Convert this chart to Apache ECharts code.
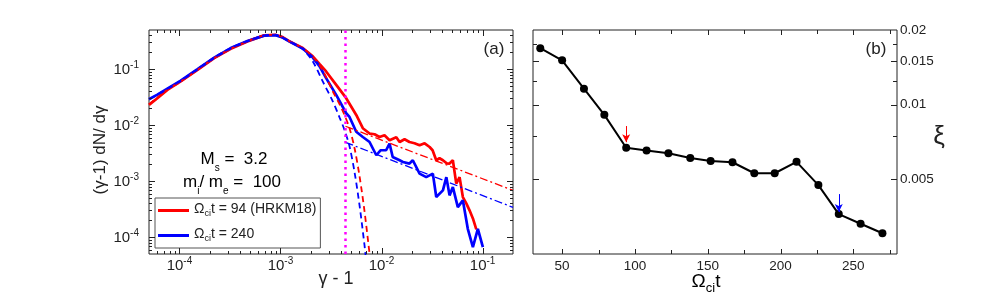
<!DOCTYPE html>
<html><head><meta charset="utf-8">
<script src="https://cdn.jsdelivr.net/npm/echarts@6/dist/echarts.min.js"></script>
<style>html,body{margin:0;padding:0;background:#fff}#c{width:997px;height:299px}</style>
</head><body><div id="c"></div>
<script>
// ---------- Panel (a) data: [gamma-1, (gamma-1)dN/dgamma] ----------
const redSolid = [[5e-5,0.0230],[6.05e-5,0.0303],[7.6e-5,0.0427],[1.03e-4,0.0603],[1.51e-4,0.0972],[2.21e-4,0.157],[3.22e-4,0.231],[4.71e-4,0.313],[6.9e-4,0.401],[8.91e-4,0.411],[1.05e-3,0.373],[1.23e-3,0.313],[1.66e-3,0.238],[2.09e-3,0.169],[2.43e-3,0.124],[2.83e-3,0.0910],[3.56e-3,0.0524],[4.47e-3,0.0303],[5.62e-3,0.0152],[6.53e-3,0.00881],[7.61e-3,0.00708],[8.53e-3,0.00688],[9.55e-3,0.00615],[0.0107,0.00659],[0.0120,0.00537],[0.0140,0.00608],[0.0151,0.00500],[0.0169,0.00560],[0.0189,0.00500],[0.0212,0.00474],[0.0238,0.00436],[0.0267,0.00474],[0.0299,0.00407],[0.0320,0.00356],[0.0348,0.00236],[0.0375,0.00256],[0.0405,0.00236],[0.0441,0.00208],[0.0471,0.00206],[0.0508,0.00236],[0.0549,9.02e-4],[0.0592,1.18e-3],[0.0638,5.20e-4],[0.0690,4.01e-4],[0.0743,3.01e-4],[0.0802,2.16e-4],[0.0867,1.38e-4]];
const blueSolid = [[5e-5,0.0290],[6.05e-5,0.0350],[7.6e-5,0.0448],[1.03e-4,0.0622],[1.51e-4,0.100],[2.21e-4,0.161],[3.22e-4,0.238],[4.71e-4,0.317],[6.9e-4,0.397],[8.91e-4,0.405],[1.05e-3,0.366],[1.23e-3,0.311],[1.66e-3,0.233],[2.09e-3,0.161],[2.43e-3,0.113],[2.83e-3,0.0690],[3.56e-3,0.0347],[4.47e-3,0.0163],[4.82e-3,0.0140],[5.62e-3,0.00762],[6.53e-3,0.00615],[7.61e-3,0.00500],[8.88e-3,0.00290],[9.77e-3,0.00356],[0.0111,0.00356],[0.0120,0.00469],[0.0129,0.00270],[0.0151,0.00236],[0.0163,0.00220],[0.0189,0.00206],[0.0204,0.00236],[0.0238,0.00136],[0.0277,0.00118],[0.0322,0.00136],[0.0348,5.20e-4],[0.0405,6.84e-4],[0.0438,0.00118],[0.0471,5.57e-4],[0.0508,7.83e-4],[0.0569,3.44e-4],[0.0638,4.54e-4],[0.0714,1.41e-4],[0.0802,6.62e-5],[0.0898,1.41e-4],[0.1007,6.62e-5]];
const redMaxwell = [[5e-5,0.0235],[6.05e-5,0.031],[7.6e-5,0.043],[1.03e-4,0.060],[1.51e-4,0.097],[2.21e-4,0.157],[3.22e-4,0.231],[4.71e-4,0.313],[6.9e-4,0.400],[8.91e-4,0.410],[1.05e-3,0.373],[1.23e-3,0.313],[1.66e-3,0.236],[2.09e-3,0.165],[2.43e-3,0.118],[2.83e-3,0.0719],[3.30e-3,0.0399],[3.84e-3,0.0237],[4.31e-3,0.0150],[4.82e-3,0.00881],[5.41e-3,0.00386],[6.06e-3,0.00122],[6.79e-3,2.88e-4],[7.7e-3,4.2e-5]];
const blueMaxwell = [[5e-5,0.029],[6.05e-5,0.035],[7.6e-5,0.0448],[1.03e-4,0.0622],[1.51e-4,0.100],[2.21e-4,0.161],[3.22e-4,0.238],[4.71e-4,0.317],[6.9e-4,0.397],[8.91e-4,0.405],[1.05e-3,0.366],[1.23e-3,0.311],[1.66e-3,0.228],[2.09e-3,0.137],[2.62e-3,0.0603],[3.30e-3,0.0264],[3.84e-3,0.0138],[4.31e-3,0.00811],[4.82e-3,0.00420],[5.41e-3,0.00144],[6.06e-3,3.69e-4],[6.79e-3,7.1e-5],[7.0e-3,4.2e-5]];
const redPowerLaw = [[4.4e-3,0.00955],[0.2,6.84e-4]];
const bluePowerLaw = [[4.4e-3,0.00494],[0.2,3.4e-4]];
const injection = [[0.0044,5e-5],[0.0044,0.5]];

// ---------- Panel (b) data ----------
const omegaT = [35,50,65,79,94,108,123,138,152,167,182,196,211,226,240,255,270];
const xi = [0.0169,0.0151,0.0116,0.0091,0.0067,0.00654,0.00637,0.0061,0.00593,0.00586,0.00529,0.00529,0.00588,0.00474,0.00362,0.00331,0.00303];
const redArrow = [[94,0.0082],[94,0.00706]];
const blueArrow = [[240,0.00436],[240,0.00369]];

// ---------- tick positions ----------
const aXMajor = [1e-4,1e-3,1e-2,1e-1];
const aXMinor = [6e-5,7e-5,8e-5,9e-5,2e-4,3e-4,4e-4,5e-4,6e-4,7e-4,8e-4,9e-4,2e-3,3e-3,4e-3,5e-3,6e-3,7e-3,8e-3,9e-3,2e-2,3e-2,4e-2,5e-2,6e-2,7e-2,8e-2,9e-2];
const aYMajor = [1e-4,1e-3,1e-2,1e-1];
const aYMinor = [6e-5,7e-5,8e-5,9e-5,2e-4,3e-4,4e-4,5e-4,6e-4,7e-4,8e-4,9e-4,2e-3,3e-3,4e-3,5e-3,6e-3,7e-3,8e-3,9e-3,2e-2,3e-2,4e-2,5e-2,6e-2,7e-2,8e-2,9e-2,0.2,0.3,0.4];
const bXMajor = [50,100,150,200,250];
const bXMinor = [75,125,175,225,275];
const bYMajor = [0.005,0.01,0.015];
const bYMinor = [0.0075,0.0125,0.0175];
const bYLabels = [0.005,0.01,0.015,0.02];

const FF = 'Liberation Sans, Arial, Helvetica, sans-serif';
const INK = '#222';

function toPairs(xs, ys){ return xs.map((x,i)=>[x, ys[i]]); }

function tickSeries(idx, xRef, yRef, xMaj, xMin, yMaj, yMin, lens){
  const data = [];
  xMaj.forEach(v=>data.push([v,yRef,0]));
  xMin.forEach(v=>data.push([v,yRef,1]));
  yMaj.forEach(v=>data.push([xRef,v,2]));
  yMin.forEach(v=>data.push([xRef,v,3]));
  return {
    type:'custom', xAxisIndex:idx, yAxisIndex:idx, silent:true, clip:false, z:10,
    encode:{x:0,y:1}, data,
    renderItem(params, api){
      const cs = params.coordSys;
      const kind = api.value(2);
      const p = api.coord([api.value(0), api.value(1)]);
      const style = {stroke:INK, lineWidth:1};
      if (kind < 2){
        const len = kind===0 ? lens[0] : lens[1];
        const x = Math.round(p[0]) + 0.5;
        const b = cs.y + cs.height, t = cs.y;
        return {type:'group', children:[
          {type:'line', shape:{x1:x,y1:b,x2:x,y2:b-len}, style},
          {type:'line', shape:{x1:x,y1:t,x2:x,y2:t+len}, style}]};
      } else {
        const len = kind===2 ? lens[2] : lens[3];
        const y = Math.round(p[1]) + 0.5;
        const l = cs.x, r = cs.x + cs.width;
        return {type:'group', children:[
          {type:'line', shape:{x1:l,y1:y,x2:l+len,y2:y}, style},
          {type:'line', shape:{x1:r,y1:y,x2:r-len,y2:y}, style}]};
      }
    }
  };
}

const powRich = {
  b:{fontSize:15, color:INK, fontFamily:FF, verticalAlign:'bottom'},
  s:{fontSize:10, color:INK, fontFamily:FF, padding:[0,0,7,0], verticalAlign:'bottom'}
};
const powFmt = v => '{b|10}{s|' + Math.round(Math.log10(v)) + '}';
const subRich = (big, small, drop) => ({
  o:{fontSize:big, color:INK, fontFamily:FF, lineHeight:big+3, verticalAlign:'top'},
  s:{fontSize:small, color:INK, fontFamily:FF, lineHeight:small+2, padding:[drop,0,0,0], verticalAlign:'top'}
});

const chart = echarts.init(document.getElementById('c'), null, {renderer:'canvas'});
const option = {
  animation:false,
  backgroundColor:'#fff',
  textStyle:{fontFamily:FF},
  grid:[
    {left:149, top:30, width:364, height:224, show:true, borderColor:INK, borderWidth:1, backgroundColor:'transparent', outerBoundsMode:'none', containLabel:false},
    {left:533, top:30, width:364, height:224, show:true, borderColor:INK, borderWidth:1, backgroundColor:'transparent', outerBoundsMode:'none', containLabel:false}
  ],
  xAxis:[
    {type:'log', logBase:10, gridIndex:0, min:5e-5, max:0.2,
     axisLine:{show:false}, axisTick:{show:false}, splitLine:{show:false},
     axisLabel:{showMinLabel:false, showMaxLabel:false, margin:2, fontSize:15, color:INK, fontFamily:FF, formatter:powFmt, rich:powRich}},
    {type:'value', gridIndex:1, min:30, max:280,
     axisLine:{show:false}, axisTick:{show:false}, splitLine:{show:false},
     axisLabel:{showMinLabel:false, showMaxLabel:false, margin:5, fontSize:13.5, color:INK, fontFamily:FF}}
  ],
  yAxis:[
    {type:'log', logBase:10, gridIndex:0, min:5e-5, max:0.5,
     axisLine:{show:false}, axisTick:{show:false}, splitLine:{show:false},
     axisLabel:{showMinLabel:false, showMaxLabel:false, margin:10, fontSize:15, color:INK, fontFamily:FF, formatter:powFmt, rich:powRich}},
    {type:'log', logBase:10, gridIndex:1, min:0.0025, max:0.02, position:'right',
     axisLine:{show:false}, axisTick:{show:false}, splitLine:{show:false},
     axisLabel:{customValues:bYLabels, margin:3, fontSize:13.5, color:INK, fontFamily:FF,
       formatter: v => String(+(+v).toPrecision(3))}}
  ],
  legend:{
    left:155, top:198, orient:'vertical', itemGap:9, itemWidth:31, itemHeight:3, icon:'rect',
    padding:[4,4,5,3], borderColor:'#555', borderWidth:1, backgroundColor:'#fff',
    data:['Ωcit = 94 (HRKM18)','Ωcit = 240'],
    formatter: name => name==='Ωcit = 240' ? '{o|Ω}{s|ci}{o|t = 240}' : '{o|Ω}{s|ci}{o|t = 94 (HRKM18)}',
    textStyle:{rich:subRich(14,9,7)}
  },
  series:[
    {name:'Ωcit = 94 (HRKM18)', type:'line', xAxisIndex:0, yAxisIndex:0, data:redSolid, showSymbol:false, symbol:'none',
     lineStyle:{color:'#ff0000', width:2.7}, itemStyle:{color:'#ff0000'}, z:3},
    {name:'Ωcit = 240', type:'line', xAxisIndex:0, yAxisIndex:0, data:blueSolid, showSymbol:false, symbol:'none',
     lineStyle:{color:'#0000ff', width:2.7}, itemStyle:{color:'#0000ff'}, z:4},
    {name:'red Maxwellian', type:'line', xAxisIndex:0, yAxisIndex:0, data:redMaxwell, symbol:'none', smooth:0.3,
     lineStyle:{color:'#ff0000', width:1.8, type:[6,4]}, z:5},
    {name:'blue Maxwellian', type:'line', xAxisIndex:0, yAxisIndex:0, data:blueMaxwell, symbol:'none', smooth:0.3,
     lineStyle:{color:'#0000ff', width:1.8, type:[6,4]}, z:5},
    {name:'red power law', type:'line', xAxisIndex:0, yAxisIndex:0, data:redPowerLaw, symbol:'none',
     lineStyle:{color:'#ff0000', width:1.3, type:[8,3,2,3]}, z:5},
    {name:'blue power law', type:'line', xAxisIndex:0, yAxisIndex:0, data:bluePowerLaw, symbol:'none',
     lineStyle:{color:'#0000ff', width:1.3, type:[8,3,2,3]}, z:5},
    {name:'injection', type:'line', xAxisIndex:0, yAxisIndex:0, data:injection, symbol:'none',
     lineStyle:{color:'#ff00ff', width:2.5, type:[2.5,4]}, z:6},
    {name:'xi', type:'line', xAxisIndex:1, yAxisIndex:1, data:toPairs(omegaT, xi),
     symbol:'circle', symbolSize:8, showSymbol:true,
     lineStyle:{color:'#000', width:2}, itemStyle:{color:'#000'}, z:4,
     markLine:{silent:true, symbol:['none','arrow'], symbolSize:[6,8], label:{show:false}, animation:false,
       data:[
         [{coord:redArrow[0], lineStyle:{color:'#ff0000', width:1, type:'solid'}},{coord:redArrow[1]}],
         [{coord:blueArrow[0], lineStyle:{color:'#0000ff', width:1, type:'solid'}},{coord:blueArrow[1]}]
       ]}},
    tickSeries(0, 1e-3, 1e-2, aXMajor, aXMinor, aYMajor, aYMinor, [6,3,6,3]),
    tickSeries(1, 100, 0.01, bXMajor, bXMinor, bYMajor, bYMinor, [5,4,6,4])
  ],
  graphic:[
    {type:'text', x:100, y:150, rotation:Math.PI/2, style:{text:'(γ-1) dN/ dγ', fontSize:17, fontFamily:FF, fill:INK, align:'center', verticalAlign:'middle'}},
    {type:'text', x:336, y:279, style:{text:'γ - 1', fontSize:18, fontFamily:FF, fill:INK, align:'center', verticalAlign:'middle'}},
    {type:'text', x:494, y:49, style:{text:'(a)', fontSize:17, fontFamily:FF, fill:INK, align:'center', verticalAlign:'middle'}},
    {type:'text', x:876, y:49, style:{text:'(b)', fontSize:17, fontFamily:FF, fill:INK, align:'center', verticalAlign:'middle'}},
    {type:'text', x:939, y:137, style:{text:'ξ', fontSize:26, fontFamily:FF, fill:INK, align:'center', verticalAlign:'middle'}},
    {type:'text', x:234, y:151, style:{text:'{o|M}{s|s}{o| =  3.2}', rich:subRich(17,10,12), align:'center', verticalAlign:'top'}},
    {type:'text', x:232, y:174, style:{text:'{o|m}{s|i}{o|/ m}{s|e}{o| =  100}', rich:subRich(17,10,12), align:'center', verticalAlign:'top'}},
    {type:'text', x:706, y:272, style:{text:'{o|Ω}{s|ci}{o|t}', rich:subRich(19,13,10), align:'center', verticalAlign:'top'}}
  ]
};
chart.setOption(option);
</script>
</body></html>
